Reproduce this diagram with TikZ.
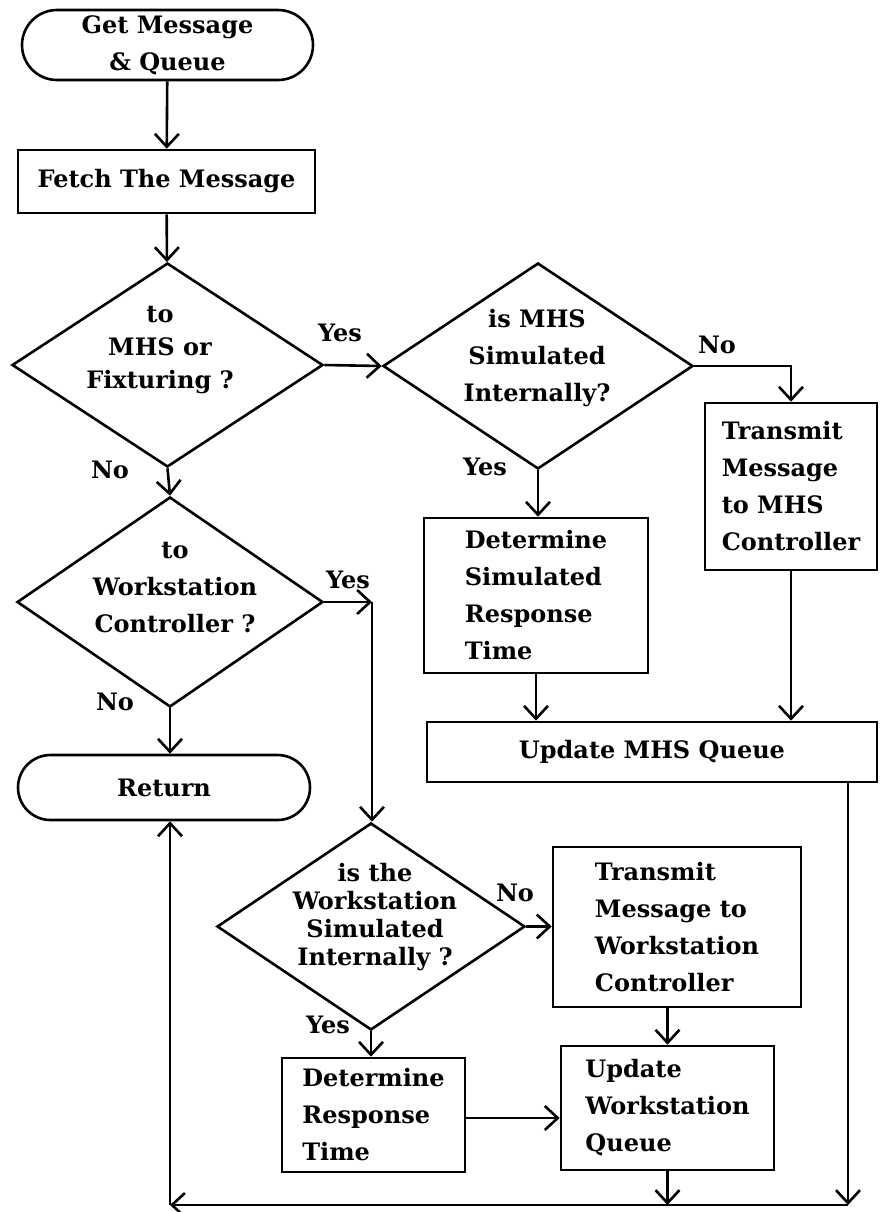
\documentclass[tikz,border=0pt]{standalone}
\usepackage{fontspec}
\setmainfont{DejaVu Serif}
\usepackage{tikz}
\usetikzlibrary{shapes.geometric, arrows.meta, positioning}
\tikzstyle{block} = [rectangle, draw, align=left, inner sep=0pt]
\tikzstyle{terminal} = [rectangle, draw, align=center, inner sep=0pt]
\tikzstyle{decision} = [diamond, draw, inner sep=0pt]
\tikzstyle{dtext} = [align=center, inner sep=0pt]
\tikzstyle{lbl} = [inner sep=0pt]
\tikzstyle{arrow} = [->, >={Straight Barb[length=6.5pt,width=12pt]}]

\begin{document}
\begin{tikzpicture}[x=0.5pt, y=-0.5pt, line width=1.3pt,
    font=\bfseries\fontsize{12}{18.5}\selectfont]
\useasboundingbox (0,0) rectangle (880,1212);

% main column
\node[terminal, rounded corners=17.5pt, minimum width=145.5pt, minimum height=35pt] (start) at (167.5,45) {Get Message\\\& Queue};
\node[block, align=center, minimum width=148.5pt, minimum height=31.5pt] (fetch) at (166.5,181.5) {Fetch The Message};
\node[decision, minimum width=155.5pt, minimum height=102pt] (d1) at (167.5,365) {};
\node[dtext, font=\bfseries\fontsize{12}{16.5}\selectfont] (d1txt) at (160,350) {to\\MHS or\\Fixturing ?};
\node[decision, minimum width=153pt, minimum height=105pt] (d3) at (170,602) {};
\node[dtext] (d3txt) at (175,587) {to\\Workstation\\Controller ?};
\node[terminal, rounded corners=16.25pt, minimum width=146pt, minimum height=32.5pt] (ret) at (164,787.5) {Return};

% MHS branch
\node[decision, minimum width=155pt, minimum height=103pt] (d2) at (538,366) {};
\node[dtext] (d2txt) at (537,358) {is MHS\\Simulated\\Internally?};
\node[block, minimum width=86pt, minimum height=83.5pt] (tmhs) at (791,486.5) {Transmit\\Message\\to MHS\\Controller};
\node[block, minimum width=112pt, minimum height=77.5pt] (dsim) at (536,595.5) {Determine\\Simulated\\Response\\Time};
\node[block, align=center, minimum width=225pt, minimum height=30pt] (umhs) at (652,752) {Update MHS Queue};

% workstation branch
\node[decision, minimum width=154pt, minimum height=103.5pt] (d4) at (371,926.5) {};
\node[dtext, font=\bfseries\fontsize{12}{14}\selectfont] (d4txt) at (375,917) {is the\\Workstation\\Simulated\\Internally ?};
\node[block, minimum width=124pt, minimum height=80pt] (tws) at (677,927) {Transmit\\Message to\\Workstation\\Controller};
\node[block, minimum width=91.5pt, minimum height=57pt] (dresp) at (373.5,1115) {Determine\\Response\\Time};
\node[block, minimum width=106.5pt, minimum height=62pt] (uws) at (667.5,1108) {Update\\Workstation\\Queue};

% branch labels
\node[lbl] (yes1) at (340,333) {Yes};
\node[lbl] (no1) at (110,470) {No};
\node[lbl] (yes2) at (485,467) {Yes};
\node[lbl] (no2) at (717,345) {No};
\node[lbl] (yes3) at (348,580) {Yes};
\node[lbl] (no3) at (115,702) {No};
\node[lbl] (no4) at (515,893) {No};
\node[lbl] (yes4) at (328,1025) {Yes};

\coordinate (wsturn) at (372,602);
\coordinate (br) at (848,1205);
\coordinate (bl) at (170,1205);

\draw[arrow] (start) -- (fetch);
\draw[arrow] (fetch) -- (d1);
\draw[arrow] (d1.east) -- (d2.west);
\draw[arrow] (d2.east) -| (tmhs.north);
\draw[arrow] (d2.south) -- (dsim.north -| d2.south);
\draw[arrow] (dsim.south) -- (dsim.south |- umhs.north);
\draw[arrow] (tmhs.south) -- (tmhs.south |- umhs.north);
\draw[arrow] (d1.south) -- (d3.north);
\draw[arrow] (d3.east) -- (wsturn);
\draw[arrow] (wsturn) -- (d4.north -| wsturn);
\draw[arrow] (d3.south) -- (d3.south |- ret.north);
\draw[arrow] (d4.east) -- (d4.east -| tws.west);
\draw[arrow] (d4.south) -- (dresp.north -| d4.south);
\draw[arrow] (tws.south -| uws.north) -- (uws.north);
\draw[arrow] (dresp.east |- 0,1118) -- (uws.west |- 0,1118);
\draw[arrow] (uws.south) -- (uws.south |- br);
\draw[arrow] (umhs.south -| br) -- (br);
\draw[arrow] (br) -- (bl);
\draw[arrow] (bl) -- (ret.south -| bl);
\end{tikzpicture}
\end{document}
